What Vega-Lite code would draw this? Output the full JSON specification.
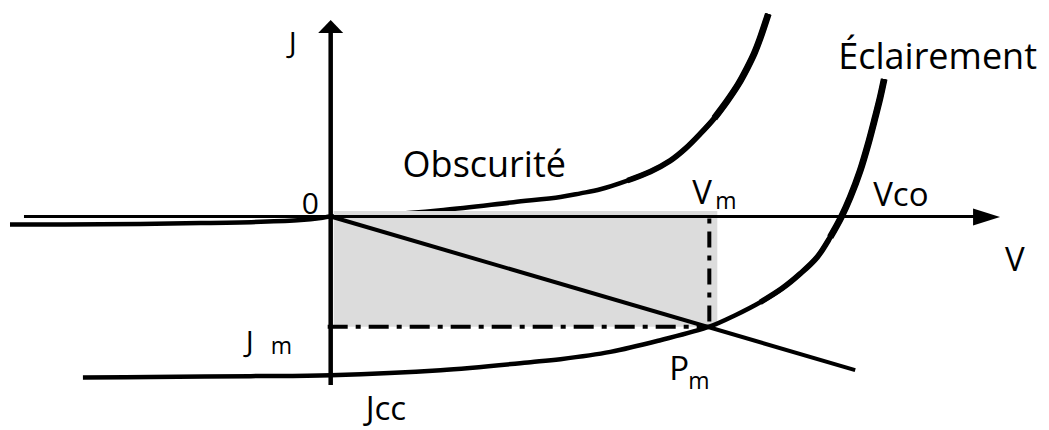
{
  "$schema": "https://vega.github.io/schema/vega-lite/v6.json",
  "width": 1049,
  "height": 430,
  "autosize": {"type": "fit", "contains": "padding"},
  "padding": 0,
  "background": "white",
  "config": {"view": {"stroke": null}},
  "datasets": {
    "curves": [
      {"s": "axisV", "V": -3.07, "J": 0},
      {"s": "axisV", "V": 6.46, "J": 0},
      {"s": "axisJ", "V": 0, "J": -1.69},
      {"s": "axisJ", "V": 0, "J": 1.86},
      {"s": "dark", "V": -3.21, "J": -0.08},
      {"s": "dark", "V": -2.3, "J": -0.078},
      {"s": "dark", "V": -1.3, "J": -0.066},
      {"s": "dark", "V": -0.7, "J": -0.053},
      {"s": "dark", "V": -0.3, "J": -0.035},
      {"s": "dark", "V": -0.1, "J": -0.015},
      {"s": "dark", "V": 0, "J": 0},
      {"s": "dark", "V": 0.5, "J": 0.015},
      {"s": "dark", "V": 1.13, "J": 0.065},
      {"s": "dark", "V": 1.83, "J": 0.143},
      {"s": "dark", "V": 2.3, "J": 0.195},
      {"s": "dark", "V": 2.5, "J": 0.232},
      {"s": "dark", "V": 2.7, "J": 0.273},
      {"s": "dark", "V": 2.97, "J": 0.36},
      {"s": "dark", "V": 3.2, "J": 0.45},
      {"s": "dark", "V": 3.4, "J": 0.56},
      {"s": "dark", "V": 3.55, "J": 0.68},
      {"s": "dark", "V": 3.7, "J": 0.83},
      {"s": "dark", "V": 3.84, "J": 0.985},
      {"s": "dark", "V": 3.97, "J": 1.16},
      {"s": "dark", "V": 4.08, "J": 1.325},
      {"s": "dark", "V": 4.17, "J": 1.49},
      {"s": "dark", "V": 4.24, "J": 1.635},
      {"s": "dark", "V": 4.3, "J": 1.79},
      {"s": "dark", "V": 4.38, "J": 2.03},
      {"s": "dark_b", "V": 2.97, "J": 0.36},
      {"s": "dark_b", "V": 3.2, "J": 0.45},
      {"s": "dark_b", "V": 3.4, "J": 0.56},
      {"s": "dark_b", "V": 3.55, "J": 0.68},
      {"s": "dark_b", "V": 3.7, "J": 0.83},
      {"s": "dark_b", "V": 3.84, "J": 0.985},
      {"s": "dark_b", "V": 3.97, "J": 1.16},
      {"s": "dark_b", "V": 4.08, "J": 1.325},
      {"s": "dark_b", "V": 4.17, "J": 1.49},
      {"s": "dark_b", "V": 4.24, "J": 1.635},
      {"s": "dark_b", "V": 4.3, "J": 1.79},
      {"s": "dark_b", "V": 4.38, "J": 2.03},
      {"s": "dark_c", "V": 3.84, "J": 0.985},
      {"s": "dark_c", "V": 3.97, "J": 1.16},
      {"s": "dark_c", "V": 4.08, "J": 1.325},
      {"s": "dark_c", "V": 4.17, "J": 1.49},
      {"s": "dark_c", "V": 4.24, "J": 1.635},
      {"s": "dark_c", "V": 4.3, "J": 1.79},
      {"s": "dark_c", "V": 4.38, "J": 2.03},
      {"s": "light", "V": -2.48, "J": -1.615},
      {"s": "light", "V": -1.8, "J": -1.61},
      {"s": "light", "V": -0.8, "J": -1.6},
      {"s": "light", "V": 0, "J": -1.59},
      {"s": "light", "V": 1.1, "J": -1.54},
      {"s": "light", "V": 2.0, "J": -1.46},
      {"s": "light", "V": 2.3, "J": -1.43},
      {"s": "light", "V": 2.8, "J": -1.357},
      {"s": "light", "V": 3.3, "J": -1.24},
      {"s": "light", "V": 3.79, "J": -1.105},
      {"s": "light", "V": 4.05, "J": -0.99},
      {"s": "light", "V": 4.3, "J": -0.86},
      {"s": "light", "V": 4.52, "J": -0.72},
      {"s": "light", "V": 4.7, "J": -0.573},
      {"s": "light", "V": 4.87, "J": -0.407},
      {"s": "light", "V": 5.0, "J": -0.207},
      {"s": "light", "V": 5.11, "J": -0.007},
      {"s": "light", "V": 5.2, "J": 0.193},
      {"s": "light", "V": 5.3, "J": 0.46},
      {"s": "light", "V": 5.38, "J": 0.727},
      {"s": "light", "V": 5.45, "J": 0.993},
      {"s": "light", "V": 5.5, "J": 1.193},
      {"s": "light", "V": 5.54, "J": 1.377},
      {"s": "light_b", "V": 4.3, "J": -0.86},
      {"s": "light_b", "V": 4.52, "J": -0.72},
      {"s": "light_b", "V": 4.7, "J": -0.573},
      {"s": "light_b", "V": 4.87, "J": -0.407},
      {"s": "light_b", "V": 5.0, "J": -0.207},
      {"s": "light_b", "V": 5.11, "J": -0.007},
      {"s": "light_b", "V": 5.2, "J": 0.193},
      {"s": "light_b", "V": 5.3, "J": 0.46},
      {"s": "light_b", "V": 5.38, "J": 0.727},
      {"s": "light_b", "V": 5.45, "J": 0.993},
      {"s": "light_b", "V": 5.5, "J": 1.193},
      {"s": "light_b", "V": 5.54, "J": 1.377},
      {"s": "light_c", "V": 5.0, "J": -0.207},
      {"s": "light_c", "V": 5.11, "J": -0.007},
      {"s": "light_c", "V": 5.2, "J": 0.193},
      {"s": "light_c", "V": 5.3, "J": 0.46},
      {"s": "light_c", "V": 5.38, "J": 0.727},
      {"s": "light_c", "V": 5.45, "J": 0.993},
      {"s": "light_c", "V": 5.5, "J": 1.193},
      {"s": "light_c", "V": 5.54, "J": 1.377},
      {"s": "load", "V": 0, "J": 0},
      {"s": "load", "V": 5.25, "J": -1.54},
      {"s": "dashH", "V": -0.03, "J": -1.105},
      {"s": "dashH", "V": 3.79, "J": -1.105},
      {"s": "dashV", "V": 3.79, "J": -0.02},
      {"s": "dashV", "V": 3.79, "J": -1.105}
    ],
    "area": [
      {"V1": 0.03, "V2": 3.87, "J1": 0.055, "J2": -1.105}
    ],
    "arrows": [
      {"axis": "V", "V": 6.565, "J": -0.005},
      {"axis": "J", "V": 0, "J": 1.905}
    ],
    "labels": [
      {"kind": "main", "text": "Obscurité", "V": 0.72, "J": 0.4},
      {"kind": "main", "text": "Éclairement", "V": 5.08, "J": 1.48},
      {"kind": "big", "text": "V", "V": 3.62, "J": 0.13},
      {"kind": "big", "text": "Vco", "V": 5.43, "J": 0.11},
      {"kind": "big", "text": "V", "V": 6.75, "J": -0.55},
      {"kind": "big", "text": "P", "V": 3.39, "J": -1.64},
      {"kind": "big", "text": "Jcc", "V": 0.35, "J": -2.04},
      {"kind": "small", "text": "J", "V": -0.42, "J": 1.64},
      {"kind": "small", "text": "0", "V": -0.29, "J": 0.03},
      {"kind": "small", "text": "J", "V": -0.85, "J": -1.36},
      {"kind": "sub", "text": "m", "V": 3.85, "J": 0.08},
      {"kind": "sub", "text": "m", "V": 3.58, "J": -1.73},
      {"kind": "sub", "text": "m", "V": -0.6, "J": -1.38}
    ]
  },
  "encoding": {
    "x": {"field": "V", "type": "quantitative", "scale": {"domain": [-3.3, 7.19], "nice": false, "zero": false}, "axis": null},
    "y": {"field": "J", "type": "quantitative", "scale": {"domain": [-2.14, 2.16], "nice": false, "zero": false}, "axis": null}
  },
  "layer": [
    {
      "data": {"name": "curves"},
      "transform": [{"filter": "datum.s === 'dark'"}],
      "mark": {"type": "line", "color": "black", "strokeWidth": 4.5, "interpolate": "catmull-rom"}
    },
    {
      "data": {"name": "curves"},
      "transform": [{"filter": "datum.s === 'dark_b'"}],
      "mark": {"type": "line", "color": "black", "strokeWidth": 5.6, "interpolate": "catmull-rom"}
    },
    {
      "data": {"name": "curves"},
      "transform": [{"filter": "datum.s === 'dark_c'"}],
      "mark": {"type": "line", "color": "black", "strokeWidth": 6.8, "interpolate": "catmull-rom"}
    },
    {
      "data": {"name": "area"},
      "mark": {"type": "rect", "color": "#dcdcdc", "opacity": 1},
      "encoding": {
        "x": {"field": "V1", "type": "quantitative"},
        "x2": {"field": "V2"},
        "y": {"field": "J1", "type": "quantitative"},
        "y2": {"field": "J2"}
      }
    },
    {
      "data": {"name": "curves"},
      "transform": [{"filter": "datum.s === 'axisV'"}],
      "mark": {"type": "line", "color": "black", "strokeWidth": 3}
    },
    {
      "data": {"name": "curves"},
      "transform": [{"filter": "datum.s === 'axisJ'"}],
      "mark": {"type": "line", "color": "black", "strokeWidth": 4.5}
    },
    {
      "data": {"name": "arrows"},
      "transform": [{"filter": "datum.axis === 'V'"}],
      "mark": {"type": "point", "shape": "M-1,-0.63L1,0L-1,0.63Z", "size": 729, "filled": true, "color": "black", "opacity": 1, "strokeWidth": 0}
    },
    {
      "data": {"name": "arrows"},
      "transform": [{"filter": "datum.axis === 'J'"}],
      "mark": {"type": "point", "shape": "M-1,0.52L0,-0.52L1,0.52Z", "size": 625, "filled": true, "color": "black", "opacity": 1, "strokeWidth": 0}
    },
    {
      "data": {"name": "curves"},
      "transform": [{"filter": "datum.s === 'load'"}],
      "mark": {"type": "line", "color": "black", "strokeWidth": 4}
    },
    {
      "data": {"name": "curves"},
      "transform": [{"filter": "datum.s === 'dashH'"}],
      "mark": {"type": "line", "color": "black", "strokeWidth": 4, "strokeDash": [20, 8, 5, 8]}
    },
    {
      "data": {"name": "curves"},
      "transform": [{"filter": "datum.s === 'dashV'"}],
      "mark": {"type": "line", "color": "black", "strokeWidth": 4, "strokeDash": [5, 8, 16, 8]}
    },
    {
      "data": {"name": "curves"},
      "transform": [{"filter": "datum.s === 'light'"}],
      "mark": {"type": "line", "color": "black", "strokeWidth": 4.5, "interpolate": "catmull-rom"}
    },
    {
      "data": {"name": "curves"},
      "transform": [{"filter": "datum.s === 'light_b'"}],
      "mark": {"type": "line", "color": "black", "strokeWidth": 5.6, "interpolate": "catmull-rom"}
    },
    {
      "data": {"name": "curves"},
      "transform": [{"filter": "datum.s === 'light_c'"}],
      "mark": {"type": "line", "color": "black", "strokeWidth": 6.8, "interpolate": "catmull-rom"}
    },
    {
      "data": {"name": "labels"},
      "transform": [{"filter": "datum.kind === 'main'"}],
      "mark": {"type": "text", "font": "Open Sans", "fontSize": 36, "align": "left", "baseline": "alphabetic", "color": "black"},
      "encoding": {"text": {"field": "text"}}
    },
    {
      "data": {"name": "labels"},
      "transform": [{"filter": "datum.kind === 'big'"}],
      "mark": {"type": "text", "font": "Open Sans", "fontSize": 33, "align": "left", "baseline": "alphabetic", "color": "black"},
      "encoding": {"text": {"field": "text"}}
    },
    {
      "data": {"name": "labels"},
      "transform": [{"filter": "datum.kind === 'small'"}],
      "mark": {"type": "text", "font": "Open Sans", "fontSize": 30, "align": "left", "baseline": "alphabetic", "color": "black"},
      "encoding": {"text": {"field": "text"}}
    },
    {
      "data": {"name": "labels"},
      "transform": [{"filter": "datum.kind === 'sub'"}],
      "mark": {"type": "text", "font": "Open Sans", "fontSize": 23, "align": "left", "baseline": "alphabetic", "color": "black"},
      "encoding": {"text": {"field": "text"}}
    }
  ]
}
